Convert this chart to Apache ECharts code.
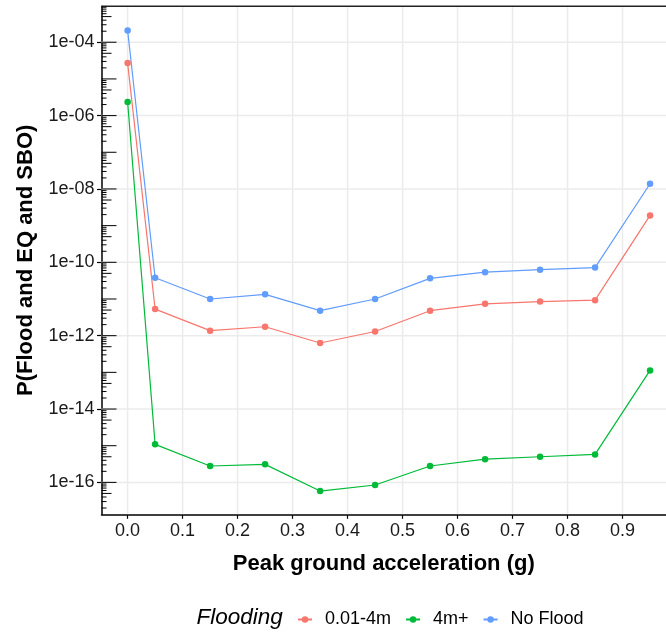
<!DOCTYPE html>
<html>
<head>
<meta charset="utf-8">
<script src="https://cdn.jsdelivr.net/npm/echarts@6/dist/echarts.min.js"></script>
<style>
  html, body { margin: 0; padding: 0; background: #fff; }
  #chart { width: 666px; height: 635px; }
</style>
</head>
<body>
<div id="chart"></div>
<script>
// peak ground acceleration (g)
var pga = [0.00, 0.05, 0.15, 0.25, 0.35, 0.45, 0.55, 0.65, 0.75, 0.85, 0.95];

// P(Flood and EQ and SBO) per flooding class
var flood001_4m = [2.7e-5, 5.3e-12, 1.37e-12, 1.75e-12, 6.3e-13, 1.3e-12, 4.8e-12, 7.4e-12, 8.5e-12, 9.3e-12, 1.9e-9];
var flood4mPlus = [2.35e-6, 1.09e-15, 2.8e-16, 3.1e-16, 5.8e-17, 8.5e-17, 2.8e-16, 4.3e-16, 5.0e-16, 5.8e-16, 1.13e-13];
var noFlood = [2.1e-4, 3.8e-11, 1.0e-11, 1.34e-11, 4.8e-12, 1.0e-11, 3.66e-11, 5.4e-11, 6.3e-11, 7.2e-11, 1.39e-8];

var seriesNames = ['0.01-4m', '4m+', 'No Flood'];
var seriesColors = ['#F8766D', '#00BA38', '#619CFF'];

// axis breaks
var xBreaks = [0, 0.1, 0.2, 0.3, 0.4, 0.5, 0.6, 0.7, 0.8, 0.9];
var yBreaks = [-16, -14, -12, -10, -8, -6, -4]; // log10 exponents

var FONT = '"Liberation Sans", Arial, sans-serif';
// the panel runs past the right edge of the picture, so the axis stops at the canvas edge
var X_MIN = -0.0475, X_MAX = 0.979;
var Y_MIN = -16.87, Y_MAX = -3.02;

function toPairs(vals) {
    var out = [];
    for (var i = 0; i < pga.length; i++) {
        out.push([pga[i], Math.log10(vals[i])]);
    }
    return out;
}

function expLabel(v) {
    var e = Math.round(v);
    var a = Math.abs(e);
    return '1e' + (e < 0 ? '-' : '+') + (a < 10 ? '0' + a : '' + a);
}

// decoration rows: [x, y, kind, len]
// kind 0 = vertical grid, 1 = horizontal grid, 2 = log tick, 3 = top border
var gridRows = [];
xBreaks.forEach(function (x) { gridRows.push([x, -10, 0, 0]); });
yBreaks.forEach(function (y) { gridRows.push([0, y, 1, 0]); });

var tickRows = [[0, Y_MAX, 3, 0]];
for (var d = -17; d <= -3; d++) {
    for (var m = 1; m <= 9; m++) {
        var len = m === 1 ? 15 : (m === 5 ? 10 : 5);
        tickRows.push([0, d + Math.log10(m), 2, len]);
    }
}

function renderDeco(params, api) {
    var cs = params.coordSys;
    var kind = api.value(2);
    if (kind === 0) {
        var px = api.coord([api.value(0), -10])[0];
        return { type: 'line', shape: { x1: px, y1: cs.y, x2: px, y2: cs.y + cs.height },
                 style: { stroke: '#ebebeb', lineWidth: 1.5 } };
    }
    if (kind === 1) {
        var py = api.coord([0, api.value(1)])[1];
        return { type: 'line', shape: { x1: cs.x, y1: py, x2: cs.x + cs.width, y2: py },
                 style: { stroke: '#ebebeb', lineWidth: 1.5 } };
    }
    if (kind === 3) {
        return { type: 'line', shape: { x1: cs.x, y1: cs.y, x2: cs.x + cs.width, y2: cs.y },
                 style: { stroke: '#222', lineWidth: 1.4 } };
    }
    var ty = api.coord([0, api.value(1)])[1];
    if (ty < cs.y || ty > cs.y + cs.height) return null;
    return { type: 'line', shape: { x1: cs.x, y1: ty, x2: cs.x + api.value(3), y2: ty },
             style: { stroke: '#000', lineWidth: 1 } };
}

var chart = echarts.init(document.getElementById('chart'), null, { renderer: 'canvas' });

var lineSeries = [flood001_4m, flood4mPlus, noFlood].map(function (vals, i) {
    return {
        name: seriesNames[i],
        type: 'line',
        data: toPairs(vals),
        symbol: 'circle',
        symbolSize: 6.5,
        showSymbol: true,
        color: seriesColors[i],
        lineStyle: { width: 1.2, color: seriesColors[i] },
        itemStyle: { color: seriesColors[i] },
        z: 5,
        animation: false
    };
});

var option = {
    animation: false,
    backgroundColor: '#fff',
    textStyle: { fontFamily: FONT },
    grid: {
        left: 101.5, top: 6.3, right: 0, height: 508,
        show: false
    },
    xAxis: {
        type: 'value', min: X_MIN, max: X_MAX,
        name: 'Peak ground acceleration (g)',
        nameLocation: 'middle', nameGap: 39,
        nameTextStyle: { fontSize: 22, fontWeight: 'bold', color: '#000', fontFamily: FONT },
        axisLine: { show: true, onZero: false, lineStyle: { color: '#000', width: 1.5 } },
        axisTick: { show: true, length: 4.5, customValues: xBreaks, lineStyle: { color: '#000', width: 1.2 } },
        axisLabel: {
            customValues: xBreaks, margin: 8, fontSize: 18, color: '#1a1a1a', fontFamily: FONT,
            formatter: function (v) { return v.toFixed(1); }
        },
        splitLine: { show: false }
    },
    yAxis: {
        type: 'value', min: Y_MIN, max: Y_MAX,
        name: 'P(Flood and EQ and SBO)',
        nameLocation: 'middle', nameGap: 65, nameRotate: 90,
        nameTextStyle: { fontSize: 22, fontWeight: 'bold', color: '#000', fontFamily: FONT },
        axisLine: { show: true, onZero: false, lineStyle: { color: '#000', width: 1.5 } },
        axisTick: { show: true, length: 4.5, customValues: yBreaks, lineStyle: { color: '#000', width: 1.2 } },
        axisLabel: {
            customValues: yBreaks, margin: 7, fontSize: 18, color: '#1a1a1a', fontFamily: FONT,
            formatter: expLabel
        },
        splitLine: { show: false }
    },
    legend: {
        data: seriesNames,
        left: 292, top: 605.5,
        itemWidth: 14, itemHeight: 8, itemGap: 14,
        textStyle: { fontSize: 18, color: '#000', fontFamily: FONT, padding: [0, 0, 0, 8] }
    },
    graphic: [{
        type: 'text', left: 196.5, top: 606.5,
        style: { text: 'Flooding', font: 'italic 22.5px ' + FONT, fill: '#000' }
    }],
    series: [{
        type: 'custom', name: 'grid', data: gridRows, encode: { x: 0, y: 1 },
        renderItem: renderDeco, silent: true, z: 1, animation: false
    }, {
        type: 'custom', name: 'logticks', data: tickRows, encode: { x: 0, y: 1 },
        renderItem: renderDeco, silent: true, z: 3, animation: false
    }].concat(lineSeries)
};

chart.setOption(option);
</script>
</body>
</html>
